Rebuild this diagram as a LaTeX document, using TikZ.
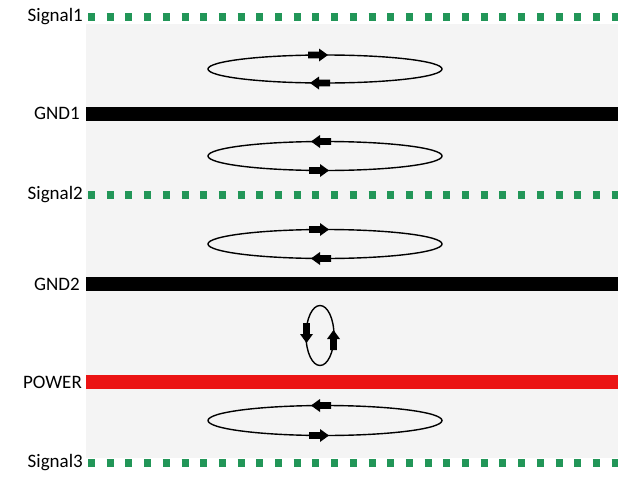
\documentclass[tikz,border=0pt]{standalone}
\usepackage{fontspec}
\setmainfont{Carlito}
\begin{document}
\begin{tikzpicture}[x=1pt,y=-1pt,
  lbl/.style={anchor=east,font=\fontsize{19}{19}\selectfont,inner sep=0pt},
  sigline/.style={draw=sgreen,line width=8pt,dash pattern=on 7pt off 11.7pt},
  bar/.style={line width=14pt},
  loop/.style={draw=black,line width=1.4pt},
  barrow/.pic={\fill[black] (-10,-3.4)--(1,-3.4)--(1,-6.5)--(10,0)--(1,6.5)--(1,3.4)--(-10,3.4)--cycle;}]
\definecolor{sgreen}{RGB}{34,150,88}
\definecolor{bg}{RGB}{244,244,244}
\definecolor{pred}{RGB}{235,20,20}
\useasboundingbox (0,0) rectangle (640,477);
\fill[white] (0,0) rectangle (640,477);
\fill[bg] (86,24) rectangle (618,458);
% planes
\coordinate (s1a) at (88,17); \coordinate (s1b) at (618,17);
\coordinate (g1a) at (86,113.5); \coordinate (g1b) at (618,113.5);
\coordinate (s2a) at (88,195); \coordinate (s2b) at (618,195);
\coordinate (g2a) at (86,284); \coordinate (g2b) at (618,284);
\coordinate (pa) at (86,382); \coordinate (pb) at (618,382);
\coordinate (s3a) at (88,463); \coordinate (s3b) at (618,463);
\draw[sigline] (s1a) -- (s1b);
\draw[sigline] (s2a) -- (s2b);
\draw[sigline] (s3a) -- (s3b);
\draw[bar,black] (g1a) -- (g1b);
\draw[bar,black] (g2a) -- (g2b);
\draw[bar,pred] (pa) -- (pb);
% labels
\node[lbl] (l1) at (83,17) {Signal1};
\node[lbl] (l2) at (80,113.5) {GND1};
\node[lbl] (l3) at (83,195) {Signal2};
\node[lbl] (l4) at (80,284) {GND2};
\node[lbl] (l5) at (82,382) {POWER};
\node[lbl] (l6) at (83,463) {Signal3};
% loops
\draw[loop] (325,69) ellipse (117 and 14);
\pic at (318,55) {barrow};
\pic[rotate=180] at (320,83) {barrow};
\draw[loop] (325,156) ellipse (117 and 14.5);
\pic[rotate=180] at (321,141.5) {barrow};
\pic at (319,170.5) {barrow};
\draw[loop] (325,244) ellipse (117 and 14.5);
\pic at (319,229.5) {barrow};
\pic[rotate=180] at (321,258.5) {barrow};
\draw[loop] (320,335.5) ellipse (14 and 30);
\pic[rotate=-90] at (306.5,333) {barrow};
\pic[rotate=90] at (333.5,340) {barrow};
\draw[loop] (325,420.5) ellipse (117 and 15);
\pic[rotate=180] at (321,405.5) {barrow};
\pic at (319,435.5) {barrow};
\end{tikzpicture}
\end{document}
